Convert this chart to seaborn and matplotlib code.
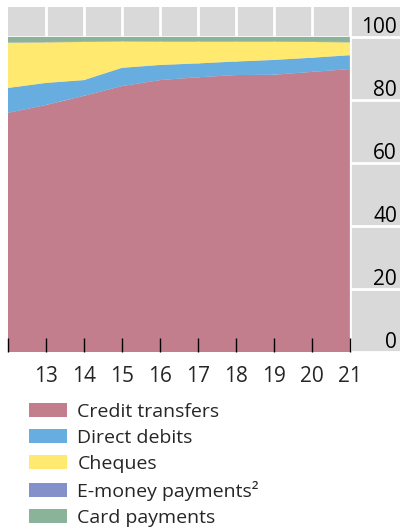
import matplotlib
matplotlib.use("Agg")
import matplotlib.pyplot as plt
import matplotlib.transforms as mtransforms
from matplotlib.patches import Patch
import seaborn as sns
import pandas as pd

years = [12, 13, 14, 15, 16, 17, 18, 19, 20, 21]
credit_transfers = [75.9, 78.4, 81.3, 84.4, 86.3, 87.2, 87.9, 88.0, 88.9, 89.8]
direct_debits = [7.9, 7.0, 5.0, 5.8, 4.8, 4.4, 4.3, 4.7, 4.5, 4.4]
cheques = [14.4, 12.9, 12.1, 8.4, 7.4, 6.9, 6.3, 5.8, 5.0, 4.1]
emoney = [0.1, 0.1, 0.1, 0.1, 0.1, 0.1, 0.1, 0.1, 0.1, 0.1]
card_payments = [1.7, 1.6, 1.5, 1.3, 1.4, 1.4, 1.4, 1.4, 1.5, 1.6]

series_names = ["Credit transfers", "Direct debits", "Cheques",
                "E-money payments²", "Card payments"]
series_values = [credit_transfers, direct_debits, cheques, emoney, card_payments]
colors = ["#c27e8d", "#68ade0", "#ffe96f", "#8490c9", "#8ab39a"]

xticks = [12, 13, 14, 15, 16, 17, 18, 19, 20, 21]
xticklabels = ["", "13", "14", "15", "16", "17", "18", "19", "20", "21"]
yticks = [0, 20, 40, 60, 80, 100]

rows = []
for name, vals in zip(series_names, series_values):
    for y, v in zip(years, vals):
        rows.append({"year": y, "value": v, "series": name})
df = pd.DataFrame(rows)

sns.set_theme(style="white")
plt.rcParams["font.family"] = ["Open Sans", "DejaVu Sans"]

fig = plt.figure(figsize=(4, 5.3), dpi=100)
ax = fig.add_axes([0.02, 1 - 352 / 530, 0.98, (352 - 7) / 530])
ax.set_facecolor("#d9d9d9")

palette = dict(zip(series_names, colors))
sns.histplot(data=df, x="year", weights="value", hue="series",
             hue_order=series_names[::-1], multiple="stack", element="poly",
             discrete=True, palette=palette, alpha=1, linewidth=0,
             edgecolor="none", legend=False, ax=ax, zorder=1)

ax.set_xlim(12, 22.32)
ax.set_ylim(0, 109.5)
for s in ax.spines.values():
    s.set_visible(False)

# grids under the areas
ax.set_axisbelow(True)
ax.yaxis.set_zorder(0.5)
ax.set_yticks(yticks)
ax.grid(axis="y", color="white", linewidth=2)
ax.tick_params(axis="y", left=False, right=False, labelleft=False, labelright=False)
for xv in xticks[1:]:
    ax.axvline(xv, color="white", linewidth=2, zorder=0.6)

ax.xaxis.set_zorder(3)
ax.set_xticks(xticks)
ax.set_xticklabels(xticklabels)
ax.tick_params(axis="x", direction="in", length=10, width=1, color="black",
               labelsize=15, pad=10, bottom=True)
ax.set_xlabel("")
ax.set_ylabel("")

off = mtransforms.offset_copy(ax.get_yaxis_transform(), fig=fig, x=-3, y=4, units="dots")
for yv in yticks:
    ax.text(1.0, yv, str(yv), transform=off, ha="right", va="baseline",
            fontsize=15, color="black")

handles = [Patch(facecolor=c, edgecolor="none") for c in colors]
fig.legend(handles, series_names, loc="upper left",
           bbox_to_anchor=(21 / 400, 1 - 395 / 530), frameon=False,
           fontsize=14, handlelength=1.95, handleheight=0.72,
           handletextpad=0.55, labelspacing=0.41, borderaxespad=0)

fig.savefig("out.png", dpi=100)
